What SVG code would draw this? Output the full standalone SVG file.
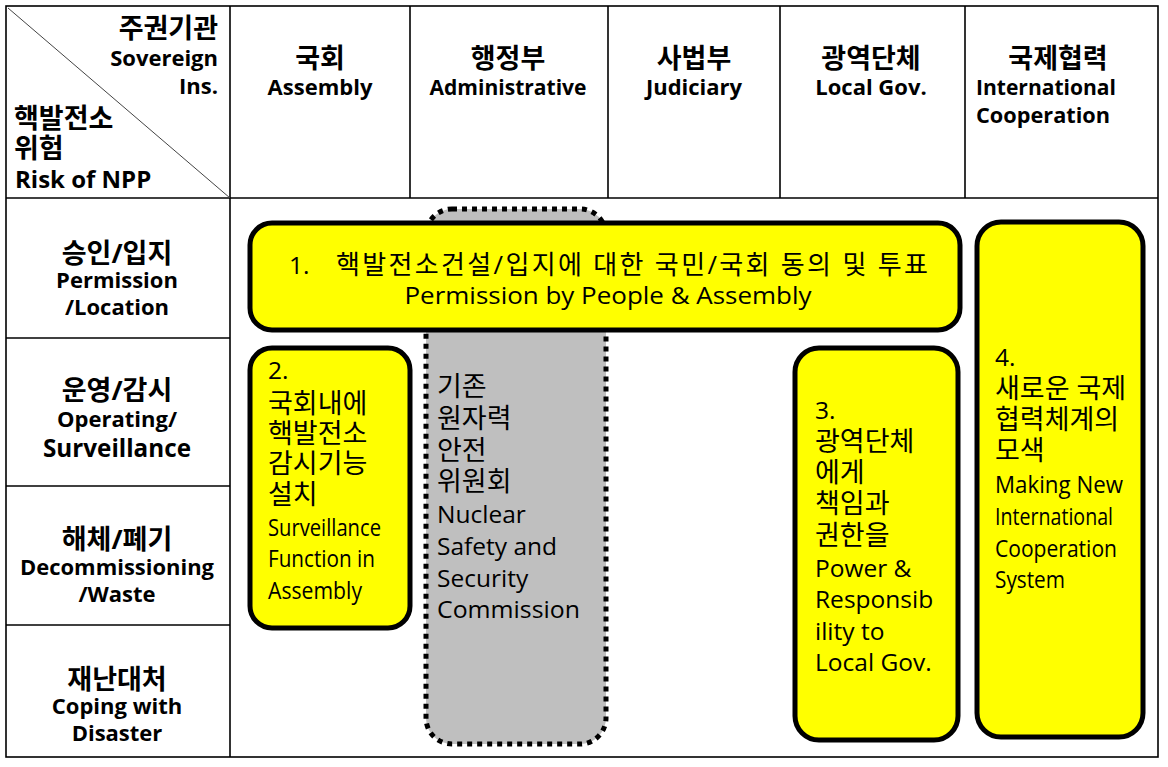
<svg xmlns="http://www.w3.org/2000/svg" width="1168" height="767" viewBox="0 0 1168 767">
<style>
.grid{stroke:#000;stroke-width:1.6;fill:none}
.f{font-family:'Open Sans','Noto Sans CJK KR',sans-serif;fill:#000}
.hk{font-size:27px;font-weight:bold}
.he{font-size:22px;font-weight:bold}
.t{font-size:24.5px}
.k{font-size:27px}
.c{text-anchor:middle}
.box{fill:#ffff00;stroke:#000;stroke-width:5}
.gray{fill:#bfbfbf;stroke:#000;stroke-width:5;stroke-dasharray:5 5}
</style>
<rect width="1168" height="767" fill="#fff"/>
<g id="table">
<rect class="grid" x="6" y="6" width="1152" height="751"/>
<line class="grid" x1="6" y1="198" x2="1158" y2="198"/>
<line class="grid" x1="6" y1="338" x2="230" y2="338"/>
<line class="grid" x1="6" y1="486" x2="230" y2="486"/>
<line class="grid" x1="6" y1="625" x2="230" y2="625"/>
<line class="grid" x1="230" y1="6" x2="230" y2="757"/>
<line class="grid" x1="410" y1="6" x2="410" y2="198"/>
<line class="grid" x1="608" y1="6" x2="608" y2="198"/>
<line class="grid" x1="780" y1="6" x2="780" y2="198"/>
<line class="grid" x1="965" y1="6" x2="965" y2="198"/>
<line x1="8" y1="8" x2="230" y2="198" stroke="#444" stroke-width="1"/>
</g>
<g id="corner-header" class="f">
<text text-anchor="end"><tspan class="hk" x="218" y="38">주권기관</tspan><tspan class="he" x="218" y="66">Sovereign</tspan><tspan class="he" x="218" y="94">Ins.</tspan></text>
<text><tspan class="hk" x="14" y="128">핵발전소</tspan><tspan class="hk" x="14" y="158">위험</tspan><tspan class="he" x="15" y="188" style="font-size:24px">Risk of NPP</tspan></text>
</g>
<g id="col-assembly" class="f c">
<text><tspan class="hk" x="320" y="68">국회</tspan><tspan class="he" x="320" y="95">Assembly</tspan></text>
</g>
<g id="col-administrative" class="f c">
<text><tspan class="hk" x="508" y="68">행정부</tspan><tspan class="he" x="508" y="95" textLength="157" lengthAdjust="spacingAndGlyphs">Administrative</tspan></text>
</g>
<g id="col-judiciary" class="f c">
<text><tspan class="hk" x="694" y="68">사법부</tspan><tspan class="he" x="694" y="95">Judiciary</tspan></text>
</g>
<g id="col-local" class="f c">
<text><tspan class="hk" x="871" y="68">광역단체</tspan><tspan class="he" x="871" y="95">Local Gov.</tspan></text>
</g>
<g id="col-international" class="f">
<text><tspan class="hk" x="1058" y="68" text-anchor="middle">국제협력</tspan><tspan class="he" x="976" y="95" textLength="140" lengthAdjust="spacingAndGlyphs">International</tspan><tspan class="he" x="976" y="123" textLength="134" lengthAdjust="spacingAndGlyphs">Cooperation</tspan></text>
</g>
<g id="row-permission" class="f c">
<text><tspan class="hk" x="117" y="263">승인/입지</tspan><tspan class="he" x="117" y="288">Permission</tspan><tspan class="he" x="117" y="315">/Location</tspan></text>
</g>
<g id="row-operating" class="f c">
<text><tspan class="hk" x="117" y="400">운영/감시</tspan><tspan class="he" x="117" y="427">Operating/</tspan><tspan class="hk" x="117" y="457" style="font-size:25px" textLength="148" lengthAdjust="spacingAndGlyphs">Surveillance</tspan></text>
</g>
<g id="row-decommissioning" class="f c">
<text><tspan class="hk" x="117" y="549">해체/폐기</tspan><tspan class="he" x="117" y="575" textLength="194" lengthAdjust="spacingAndGlyphs">Decommissioning</tspan><tspan class="he" x="117" y="602">/Waste</tspan></text>
</g>
<g id="row-disaster" class="f c">
<text><tspan class="hk" x="117" y="689">재난대처</tspan><tspan class="he" x="117" y="714">Coping with</tspan><tspan class="he" x="117" y="741">Disaster</tspan></text>
</g>
<g id="nssc">
<rect class="gray" x="426" y="209" width="180" height="535" rx="26"/>
<text class="f t"><tspan class="k" x="437" y="396">기존</tspan><tspan class="k" x="437" y="428">원자력</tspan><tspan class="k" x="437" y="460">안전</tspan><tspan class="k" x="437" y="491">위원회</tspan><tspan x="437" y="523">Nuclear</tspan><tspan x="437" y="555">Safety and</tspan><tspan x="437" y="587">Security</tspan><tspan x="437" y="618" textLength="143" lengthAdjust="spacingAndGlyphs">Commission</tspan></text>
</g>
<g id="box1">
<rect class="box" x="250" y="223" width="710" height="107" rx="22"/>
<text class="f t"><tspan x="289" y="274">1.</tspan><tspan class="k" x="336" y="274" style="font-size:26px" textLength="592" lengthAdjust="spacing">핵발전소건설/입지에 대한 국민/국회 동의 및 투표</tspan><tspan x="608" y="304" text-anchor="middle" textLength="407" lengthAdjust="spacingAndGlyphs">Permission by People &amp; Assembly</tspan></text>
</g>
<g id="box2">
<rect class="box" x="250" y="348" width="160" height="280" rx="22"/>
<text class="f t"><tspan x="268" y="379">2.</tspan><tspan class="k" x="268" y="413">국회내에</tspan><tspan class="k" x="268" y="443">핵발전소</tspan><tspan class="k" x="268" y="473">감시기능</tspan><tspan class="k" x="268" y="504">설치</tspan><tspan x="268" y="536" textLength="113" lengthAdjust="spacingAndGlyphs">Surveillance</tspan><tspan x="268" y="567" textLength="107" lengthAdjust="spacingAndGlyphs">Function in</tspan><tspan x="268" y="599" textLength="94" lengthAdjust="spacingAndGlyphs">Assembly</tspan></text>
</g>
<g id="box3">
<rect class="box" x="795" y="348" width="163" height="392" rx="24"/>
<text class="f t"><tspan x="815" y="419">3.</tspan><tspan class="k" x="815" y="451">광역단체</tspan><tspan class="k" x="815" y="482">에게</tspan><tspan class="k" x="815" y="513">책임과</tspan><tspan class="k" x="815" y="545">권한을</tspan><tspan x="815" y="577">Power &amp;</tspan><tspan x="815" y="608">Responsib</tspan><tspan x="815" y="640">ility to</tspan><tspan x="815" y="671">Local Gov.</tspan></text>
</g>
<g id="box4">
<rect class="box" x="977" y="222" width="166" height="515" rx="24"/>
<text class="f t"><tspan x="995" y="366">4.</tspan><tspan class="k" x="995" y="398">새로운 국제</tspan><tspan class="k" x="995" y="429">협력체계의</tspan><tspan class="k" x="995" y="460">모색</tspan><tspan x="995" y="493" textLength="128" lengthAdjust="spacingAndGlyphs">Making New</tspan><tspan x="995" y="525" textLength="118" lengthAdjust="spacingAndGlyphs">International</tspan><tspan x="995" y="557" textLength="122" lengthAdjust="spacingAndGlyphs">Cooperation</tspan><tspan x="995" y="588" textLength="70" lengthAdjust="spacingAndGlyphs">System</tspan></text>
</g>
</svg>
